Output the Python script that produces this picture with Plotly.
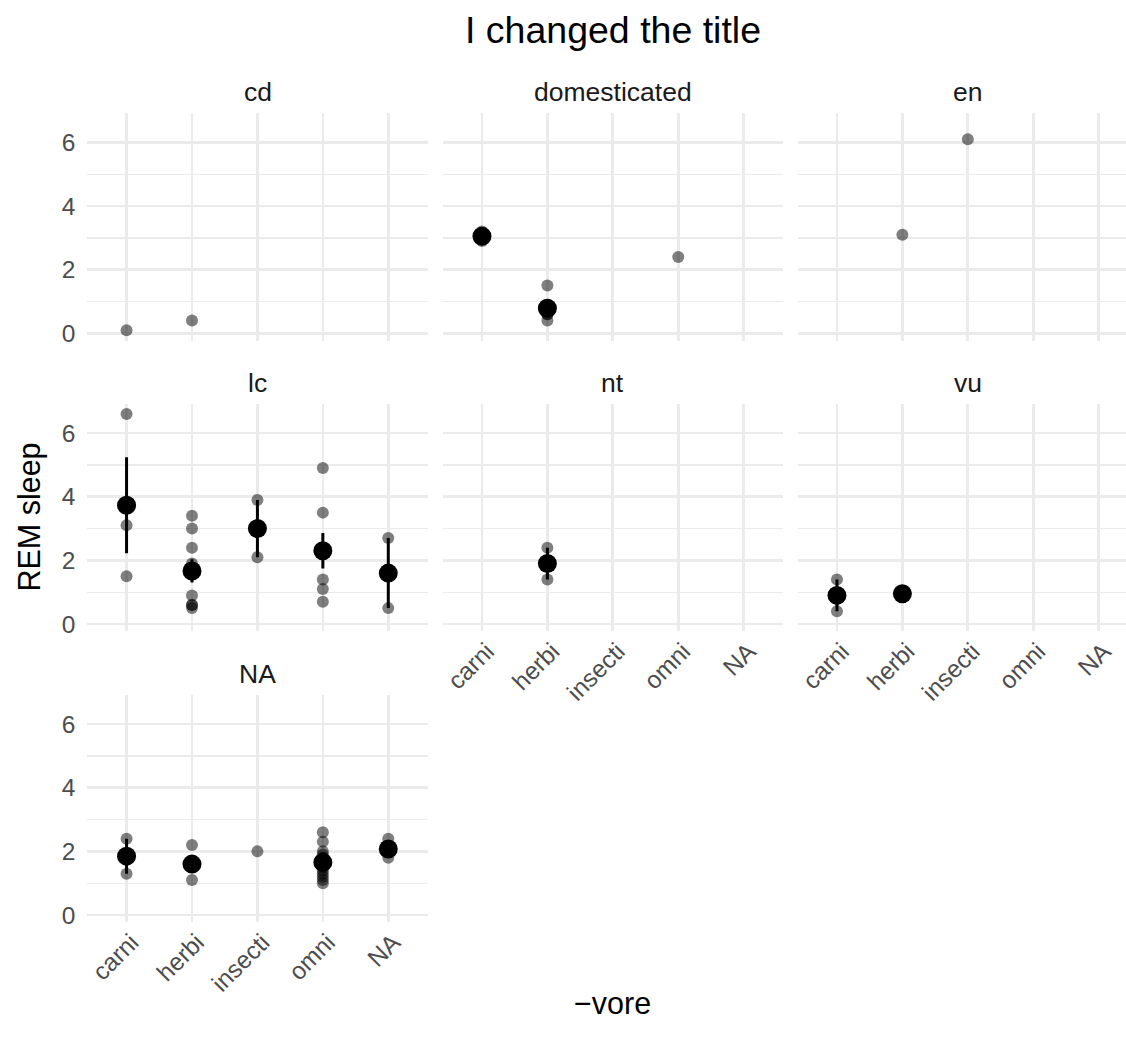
import numpy as np
import plotly.graph_objects as go

# ---------------- data ----------------
conservation_levels = ["cd", "domesticated", "en", "lc", "nt", "vu", "NA"]
vore_levels = ["carni", "herbi", "insecti", "omni", "NA"]

obs_conservation = (
    ["cd"] * 2
    + ["domesticated"] * 10
    + ["en"] * 2
    + ["lc"] * 23
    + ["nt"] * 2
    + ["vu"] * 4
    + ["NA"] * 26
)
obs_vore = (
    ["carni", "herbi"]
    + ["carni"] * 2 + ["herbi"] * 7 + ["omni"]
    + ["herbi", "insecti"]
    + ["carni"] * 3 + ["herbi"] * 9 + ["insecti"] * 2 + ["omni"] * 7 + ["NA"] * 2
    + ["herbi"] * 2
    + ["carni"] * 2 + ["herbi"] * 2
    + ["carni"] * 2 + ["herbi"] * 6 + ["insecti"] + ["omni"] * 13 + ["NA"] * 4
)
obs_rem = (
    [0.1, 0.4]
    + [2.9, 3.2] + [0.7, 0.8, 1.5, 0.6, 0.4, 0.9, 0.6] + [2.4]
    + [3.1, 6.1]
    + [6.6, 3.1, 1.5] + [3.4, 3.0, 2.4, 1.9, 1.7, 0.9, 0.6, 0.6, 0.5] + [3.9, 2.1]
    + [4.9, 3.5, 2.3, 2.2, 1.4, 1.1, 0.7] + [2.7, 0.5]
    + [2.4, 1.4]
    + [1.4, 0.4] + [1.0, 0.9]
    + [2.4, 1.3] + [2.2, 1.6, 1.5, 1.7, 1.5, 1.1] + [2.0]
    + [2.6, 2.3, 2.0, 1.9, 1.8, 1.8, 1.6, 1.5, 1.4, 1.3, 1.2, 1.1, 1.0]
    + [2.4, 2.1, 2.0, 1.8]
)

title_text = "I changed the title"
x_title = "\u2212vore"
y_title = "REM sleep"
y_major_ticks = [0, 2, 4, 6]
y_minor_ticks = [1, 3, 5]

# ---------------- layout geometry (pixels) ----------------
W, H = 1126, 1042
col_px = [(87.3, 427.7), (442.7, 783.0), (797.7, 1126.0)]
col_full_right = [427.7, 783.0, 1138.0]
row_px = [(113.0, 340.5), (403.6, 631.2), (694.6, 922.2)]
step = 65.43

FAM = "Liberation Sans, Arial, sans-serif"
TICK_FONT = dict(family=FAM, size=24.5, color="#4D4D4D")
STRIP_FONT = dict(family=FAM, size=26.5, color="#1A1A1A")
TITLE_FONT = dict(family=FAM, size=37.5, color="#000000")
AXT_FONT = dict(family=FAM, size=30.5, color="#000000")

obs_conservation = np.array(obs_conservation)
obs_vore = np.array(obs_vore)
obs_rem = np.array(obs_rem, dtype=float)

# summaries (mean +/- standard error) per panel and vore
summaries = {}
all_vals = list(obs_rem)
for cons in conservation_levels:
    for v in vore_levels:
        vals = obs_rem[(obs_conservation == cons) & (obs_vore == v)]
        if len(vals) >= 2:
            m = vals.mean()
            se = vals.std(ddof=1) / np.sqrt(len(vals))
            summaries[(cons, v)] = (m, se)
            all_vals += [m - se, m + se]

lo, hi = min(all_vals), max(all_vals)
span = hi - lo
y_range = [lo - 0.05 * span, hi + 0.05 * span]

fig = go.Figure()
layout = dict(
    width=W, height=H,
    margin=dict(l=0, r=0, t=0, b=0, autoexpand=False),
    paper_bgcolor="white", plot_bgcolor="white",
    showlegend=False,
)
annotations = []

for i, cons in enumerate(conservation_levels):
    r, c = divmod(i, 3)
    ax = "" if i == 0 else str(i + 1)
    x0, x1 = col_px[c]
    y0, y1 = row_px[r]
    xr_right = (x1 - (x0 + 0.6 * step)) / step
    show_x = (i in (4, 5, 6))
    show_y = (c == 0)
    layout["xaxis" + ax] = dict(
        domain=[x0 / W, x1 / W],
        anchor="y" + ax,
        type="category",
        categoryorder="array",
        categoryarray=vore_levels,
        range=[-0.6, xr_right],
        automargin=False,
        showgrid=True, gridcolor="#EBEBEB", gridwidth=2.7,
        zeroline=False, showline=False, ticks="",
        showticklabels=show_x, tickangle=-45,
        tickfont=TICK_FONT, ticklabelstandoff=0, ticklabelshift=5,
        fixedrange=True,
    )
    layout["yaxis" + ax] = dict(
        domain=[1 - y1 / H, 1 - y0 / H],
        anchor="x" + ax,
        range=y_range,
        automargin=False,
        tickmode="array", tickvals=y_major_ticks,
        ticktext=[str(t) for t in y_major_ticks],
        showgrid=True, gridcolor="#EBEBEB", gridwidth=2.7,
        minor=dict(tickmode="array", tickvals=y_minor_ticks, showgrid=True,
                   gridcolor="#EBEBEB", gridwidth=1.4, ticks=""),
        zeroline=False, showline=False, ticks="",
        showticklabels=show_y, tickfont=TICK_FONT, ticklabelstandoff=11,
        fixedrange=True,
    )

    sel = obs_conservation == cons
    fig.add_trace(go.Scatter(
        x=obs_vore[sel], y=obs_rem[sel], mode="markers",
        marker=dict(size=12, color="rgba(0,0,0,0.5)", line=dict(width=0)),
        xaxis="x" + ax, yaxis="y" + ax, hoverinfo="skip",
    ))
    sx, sy, se = [], [], []
    for v in vore_levels:
        if (cons, v) in summaries:
            m, s = summaries[(cons, v)]
            sx.append(v); sy.append(m); se.append(s)
    if sx:
        fig.add_trace(go.Scatter(
            x=sx, y=sy, mode="markers",
            marker=dict(size=19, color="black", line=dict(width=0)),
            error_y=dict(type="data", array=se, symmetric=True,
                         thickness=3, width=0, color="black"),
            xaxis="x" + ax, yaxis="y" + ax, hoverinfo="skip",
        ))

    # facet strip label
    cx = (x0 + col_full_right[c]) / 2
    annotations.append(dict(
        text=cons, x=cx / W, y=1 - (y0 - 21) / H, xref="paper", yref="paper",
        xanchor="center", yanchor="middle", showarrow=False, font=STRIP_FONT,
    ))

panel_cx = (col_px[0][0] + col_full_right[2]) / 2
panel_cy = (row_px[0][0] + row_px[2][1]) / 2
annotations.append(dict(
    text=title_text, x=panel_cx / W, y=1 - 30 / H, xref="paper", yref="paper",
    xanchor="center", yanchor="middle", showarrow=False, font=TITLE_FONT,
))
annotations.append(dict(
    text=x_title, x=panel_cx / W, y=1 - 1003 / H, xref="paper", yref="paper",
    xanchor="center", yanchor="middle", showarrow=False, font=AXT_FONT,
))
annotations.append(dict(
    text=y_title, x=30 / W, y=1 - panel_cy / H, xref="paper", yref="paper",
    xanchor="center", yanchor="middle", showarrow=False, font=AXT_FONT,
    textangle=-90,
))
layout["annotations"] = annotations
fig.update_layout(**layout)
fig.write_html(
    "out.html",
    config={"displayModeBar": False, "staticPlot": True},
    post_script="document.body.style.margin='0';document.body.style.padding='0';"
                "document.documentElement.style.overflow='hidden';",
)
